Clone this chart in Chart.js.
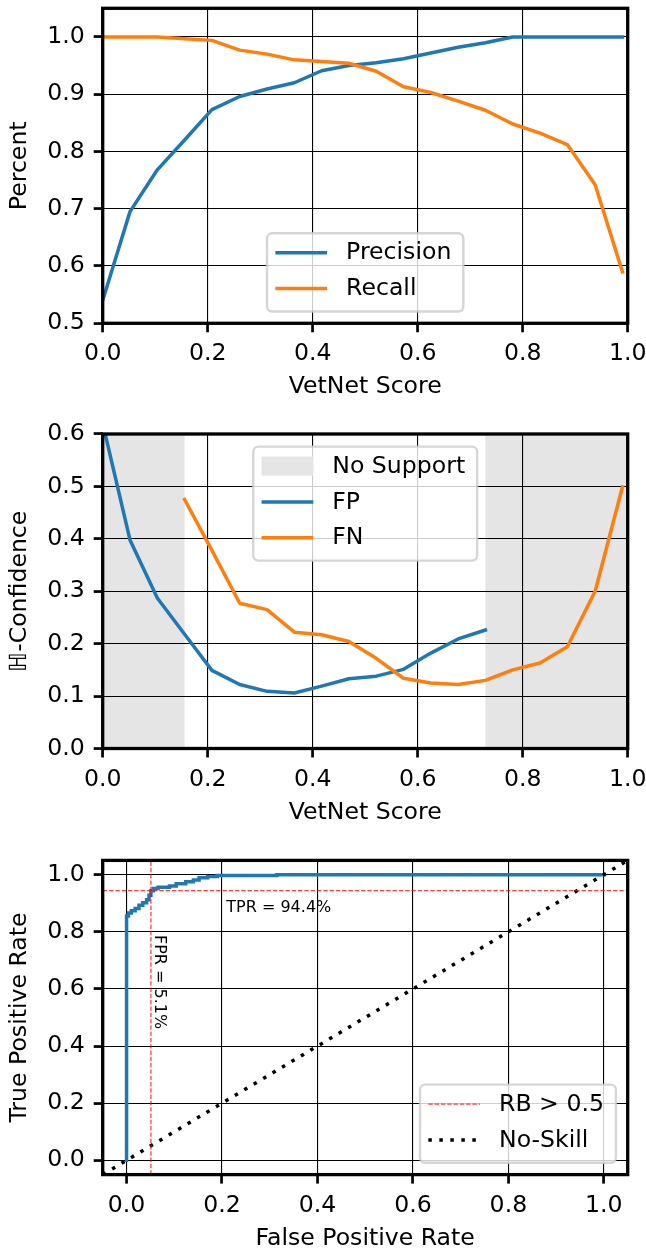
<!DOCTYPE html>
<html>
<head>
<meta charset="utf-8">
<script src="https://cdn.jsdelivr.net/npm/chart.js@4.4.1/dist/chart.umd.min.js"></script>
<style>
  html, body { margin: 0; padding: 0; background: #fff; }
  #wrap { position: relative; width: 646px; height: 1251px; }
  canvas { position: absolute; left: 0; }
</style>
</head>
<body>
<div id="wrap">
  <canvas id="pr" width="646" height="420" style="top:0px"></canvas>
  <canvas id="conf" width="646" height="420" style="top:420px"></canvas>
  <canvas id="roc" width="646" height="411" style="top:840px"></canvas>
</div>
<script>
// ---- data ----
const scores = [0.000, 0.052, 0.104, 0.156, 0.208, 0.261, 0.313, 0.365, 0.417, 0.469,
                0.521, 0.573, 0.625, 0.677, 0.729, 0.781, 0.833, 0.885, 0.938, 0.990];
const precision = [0.540, 0.695, 0.768, 0.820, 0.873, 0.896, 0.909, 0.920, 0.941, 0.950,
                   0.955, 0.962, 0.972, 0.982, 0.990, 1.000, 1.000, 1.000, 1.000, 1.000];
const recall = [1.000, 1.000, 1.000, 0.997, 0.994, 0.977, 0.970, 0.960, 0.957, 0.954,
                0.940, 0.913, 0.903, 0.888, 0.872, 0.848, 0.832, 0.812, 0.742, 0.590];
const fpConfidence = [0.620, 0.398, 0.287, 0.218, 0.149, 0.122, 0.109, 0.106, 0.119, 0.133,
                      0.138, 0.151, 0.182, 0.209, 0.226, null, null, null, null, null];
const fnConfidence = [null, null, null, 0.475, 0.378, 0.277, 0.265, 0.222, 0.217, 0.204,
                      0.172, 0.134, 0.125, 0.122, 0.130, 0.150, 0.163, 0.194, 0.300, 0.499];
const noSupport = [[0.0, 0.156], [0.729, 1.0]];

const rocFpr = [0, 0, 0.004, 0.004, 0.010, 0.010, 0.018, 0.018, 0.026, 0.026, 0.034, 0.034,
                0.042, 0.042, 0.047, 0.047, 0.051, 0.051, 0.056, 0.056, 0.066, 0.066, 0.090,
                0.090, 0.104, 0.104, 0.124, 0.124, 0.140, 0.140, 0.152, 0.152, 0.170, 0.170,
                0.190, 0.190, 0.315, 0.315, 1.000];
const rocTpr = [0, 0.855, 0.855, 0.866, 0.866, 0.874, 0.874, 0.882, 0.882, 0.893, 0.893, 0.902,
                0.902, 0.912, 0.912, 0.928, 0.928, 0.944, 0.944, 0.952, 0.952, 0.956, 0.956,
                0.960, 0.960, 0.968, 0.968, 0.975, 0.975, 0.981, 0.981, 0.989, 0.989, 0.994,
                0.994, 0.997, 0.997, 1.000, 1.000];
const rbFpr = 0.051;   // false positive rate at RB > 0.5
const rbTpr = 0.944;   // true positive rate at RB > 0.5
const skillLine = [-0.05, 1.05];

const unitTicks = [0.0, 0.2, 0.4, 0.6, 0.8, 1.0];
const percentTicks = [0.5, 0.6, 0.7, 0.8, 0.9, 1.0];
const confTicks = [0.0, 0.1, 0.2, 0.3, 0.4, 0.5, 0.6];

// ---- styling ----
const FAMILY = '"DejaVu Sans", "Liberation Sans", sans-serif';
const FS = 23.6;
const BLUE = '#1f77b4', ORANGE = '#ff7f0e', SHADE = '#e5e5e5';
const RED = 'rgba(255,0,0,0.75)';
const AXIS_W = 102.7;       // y axis box width
const X_AXIS_H = 75.8;      // x axis box height
const RIGHT_PAD = 646 - 627.7;

const pts = (xs, ys) => xs.map((x, i) => ({x, y: ys[i]})).filter(p => p.y !== null);

function axis(kind, min, max, ticks, title) {
  return {
    type: 'linear', min, max,
    afterBuildTicks: s => { s.ticks = ticks.map(v => ({value: v})); },
    afterFit: s => {
      if (kind === 'x') s.height = X_AXIS_H; else s.width = AXIS_W;
      s.paddingLeft = s.paddingRight = s.paddingTop = s.paddingBottom = 0;
    },
    grid: {color: '#000', lineWidth: 1.1, tickLength: 9, tickWidth: 2.7, tickColor: '#000'},
    border: {display: false},
    ticks: {
      color: '#000', autoSkip: false, maxRotation: 0, minRotation: 0,
      padding: kind === 'x' ? 7.8 : 9,
      font: {family: FAMILY, size: FS, lineHeight: 1.2},
      callback: v => Number(v).toFixed(1)
    },
    title: {
      display: true, text: title, color: '#000',
      font: {family: FAMILY, size: FS, lineHeight: 1},
      padding: kind === 'x' ? {top: 0, bottom: 0} : {top: 8.2, bottom: 0}
    }
  };
}

function line(label, data, color, extra) {
  return Object.assign({
    label, data, borderColor: color, backgroundColor: color, borderWidth: 3.5,
    pointRadius: 0, tension: 0, fill: false, showLine: true,
    borderJoinStyle: 'round', borderCapStyle: 'square'
  }, extra || {});
}

// spine rectangle around the plotting area
const framePlugin = {
  id: 'frame',
  afterDatasetsDraw(chart) {
    const {ctx, chartArea: a} = chart;
    ctx.save();
    ctx.strokeStyle = '#000';
    ctx.lineWidth = 3.3;
    ctx.strokeRect(a.left, a.top, a.right - a.left, a.bottom - a.top);
    ctx.restore();
  }
};

// shaded vertical spans, under the grid
const spanPlugin = {
  id: 'spans',
  beforeDraw(chart, args, opts) {
    if (!opts || !opts.ranges) return;
    const {ctx, chartArea: a, scales: {x}} = chart;
    ctx.save();
    ctx.fillStyle = opts.color;
    opts.ranges.forEach(([lo, hi]) => {
      const x0 = x.getPixelForValue(lo), x1 = x.getPixelForValue(hi);
      ctx.fillRect(x0, a.top, x1 - x0, a.bottom - a.top);
    });
    ctx.restore();
  }
};

// boxed legend placed inside the plotting area
const boxLegendPlugin = {
  id: 'boxLegend',
  afterDraw(chart, args, opts) {
    if (!opts || !opts.items) return;
    const {ctx, chartArea: a} = chart;
    const items = opts.items;
    ctx.save();
    ctx.font = `${FS}px ${FAMILY}`;
    const textW = Math.max(...items.map(it => ctx.measureText(it.text).width));
    const w = 79 + textW + 12;
    const h = 42.4 + 35.8 * (items.length - 1);
    const inset = 11.8;
    let x0, y0;
    if (opts.loc === 'lower center') { x0 = (a.left + a.right) / 2 - w / 2; y0 = a.bottom - inset - h; }
    else if (opts.loc === 'upper center') { x0 = (a.left + a.right) / 2 - w / 2; y0 = a.top + inset + 0.8; }
    else { x0 = a.right - inset - w; y0 = a.bottom - inset - h; }

    const r = 5;
    ctx.beginPath();
    ctx.moveTo(x0 + r, y0);
    ctx.arcTo(x0 + w, y0, x0 + w, y0 + h, r);
    ctx.arcTo(x0 + w, y0 + h, x0, y0 + h, r);
    ctx.arcTo(x0, y0 + h, x0, y0, r);
    ctx.arcTo(x0, y0, x0 + w, y0, r);
    ctx.closePath();
    ctx.fillStyle = 'rgba(255,255,255,0.8)';
    ctx.fill();
    ctx.strokeStyle = 'rgba(204,204,204,0.8)';
    ctx.lineWidth = 2.4;
    ctx.stroke();

    items.forEach((it, k) => {
      const cy = y0 + 19.5 + 35.8 * k;
      const hx0 = x0 + 8.3, hx1 = x0 + 60;
      if (it.kind === 'patch') {
        ctx.fillStyle = it.color;
        ctx.fillRect(hx0, cy - 9.5, hx1 - hx0, 19);
      } else {
        ctx.save();
        ctx.strokeStyle = it.color;
        ctx.lineWidth = it.width;
        ctx.lineCap = 'butt';
        ctx.setLineDash(it.dash || []);
        ctx.beginPath();
        ctx.moveTo(hx0, cy);
        ctx.lineTo(hx1, cy);
        ctx.stroke();
        ctx.restore();
      }
      ctx.fillStyle = '#000';
      ctx.textAlign = 'left';
      ctx.textBaseline = 'middle';
      ctx.fillText(it.text, x0 + 79, cy + 0.5);
    });
    ctx.restore();
  }
};

// rate annotations beside the RB > 0.5 reference lines
const rateLabelPlugin = {
  id: 'rateLabels',
  afterDatasetsDraw(chart, args, opts) {
    if (!opts || !opts.show) return;
    const {ctx, scales: {x, y}} = chart;
    ctx.save();
    ctx.fillStyle = '#000';
    ctx.font = `16px ${FAMILY}`;
    ctx.textAlign = 'left';
    ctx.textBaseline = 'alphabetic';
    ctx.fillText(`TPR = ${(rbTpr * 100).toFixed(1)}%`, x.getPixelForValue(0.209), y.getPixelForValue(0.870));
    ctx.translate(x.getPixelForValue(0.0596), y.getPixelForValue(0.789));
    ctx.rotate(Math.PI / 2);
    ctx.fillText(`FPR = ${(rbFpr * 100).toFixed(1)}%`, 0, 0);
    ctx.restore();
  }
};

Chart.register(framePlugin, spanPlugin, boxLegendPlugin, rateLabelPlugin);

function baseOptions(padTop, padBottom) {
  return {
    responsive: false, animation: false, devicePixelRatio: 1, events: [],
    layout: {padding: {left: 0, right: RIGHT_PAD, top: padTop, bottom: padBottom}},
    plugins: {legend: {display: false}, tooltip: {enabled: false}}
  };
}

// ---- Precision / Recall ----
{
  const opts = baseOptions(8.3, 420 - 323.3 - X_AXIS_H);
  opts.scales = {
    x: axis('x', 0, 1.0, unitTicks, 'VetNet Score'),
    y: axis('y', 0.5, 1.05, percentTicks, 'Percent')
  };
  opts.plugins.boxLegend = {
    loc: 'lower center',
    items: [
      {text: 'Precision', kind: 'line', color: BLUE, width: 3.5},
      {text: 'Recall', kind: 'line', color: ORANGE, width: 3.5}
    ]
  };
  new Chart(document.getElementById('pr'), {
    type: 'scatter',
    data: {datasets: [
      line('Precision', pts(scores, precision), BLUE, {order: 2}),
      line('Recall', pts(scores, recall), ORANGE, {order: 1})
    ]},
    options: opts
  });
}

// ---- H-Confidence ----
{
  const opts = baseOptions(14, 420 - 328.5 - X_AXIS_H);
  opts.scales = {
    x: axis('x', 0, 1.0, unitTicks, 'VetNet Score'),
    y: axis('y', 0, 0.6, confTicks, 'ℍ-Confidence')
  };
  opts.plugins.spans = {ranges: noSupport, color: SHADE};
  opts.plugins.boxLegend = {
    loc: 'upper center',
    items: [
      {text: 'No Support', kind: 'patch', color: SHADE},
      {text: 'FP', kind: 'line', color: BLUE, width: 3.5},
      {text: 'FN', kind: 'line', color: ORANGE, width: 3.5}
    ]
  };
  new Chart(document.getElementById('conf'), {
    type: 'scatter',
    data: {datasets: [
      line('FP', pts(scores, fpConfidence), BLUE, {order: 2}),
      line('FN', pts(scores, fnConfidence), ORANGE, {order: 1})
    ]},
    options: opts
  });
}

// ---- ROC ----
{
  const opts = baseOptions(20.4, 411 - 334.6 - X_AXIS_H);
  opts.scales = {
    x: axis('x', -0.05, 1.05, unitTicks, 'False Positive Rate'),
    y: axis('y', -0.05, 1.05, unitTicks, 'True Positive Rate')
  };
  const redDash = [4.4, 1.9];
  const dots = [3.5, 7.5];
  opts.plugins.rateLabels = {show: true};
  opts.plugins.boxLegend = {
    loc: 'lower right',
    items: [
      {text: 'RB > 0.5', kind: 'line', color: RED, width: 1.3, dash: redDash},
      {text: 'No-Skill', kind: 'line', color: '#000', width: 3.5, dash: dots}
    ]
  };
  new Chart(document.getElementById('roc'), {
    type: 'scatter',
    data: {datasets: [
      line('ROC', pts(rocFpr, rocTpr), BLUE, {order: 3, borderJoinStyle: 'miter'}),
      line('No-Skill', [{x: skillLine[0], y: skillLine[0]}, {x: skillLine[1], y: skillLine[1]}], '#000',
           {order: 2, borderDash: dots, borderCapStyle: 'butt'}),
      line('RB > 0.5', [{x: rbFpr, y: -0.05}, {x: rbFpr, y: 1.05}], RED,
           {order: 1, borderWidth: 1.3, borderDash: redDash, borderCapStyle: 'butt'}),
      line('RB > 0.5 TPR', [{x: -0.05, y: rbTpr}, {x: 1.05, y: rbTpr}], RED,
           {order: 0, borderWidth: 1.3, borderDash: redDash, borderCapStyle: 'butt'})
    ]},
    options: opts
  });
}
</script>
</body>
</html>
